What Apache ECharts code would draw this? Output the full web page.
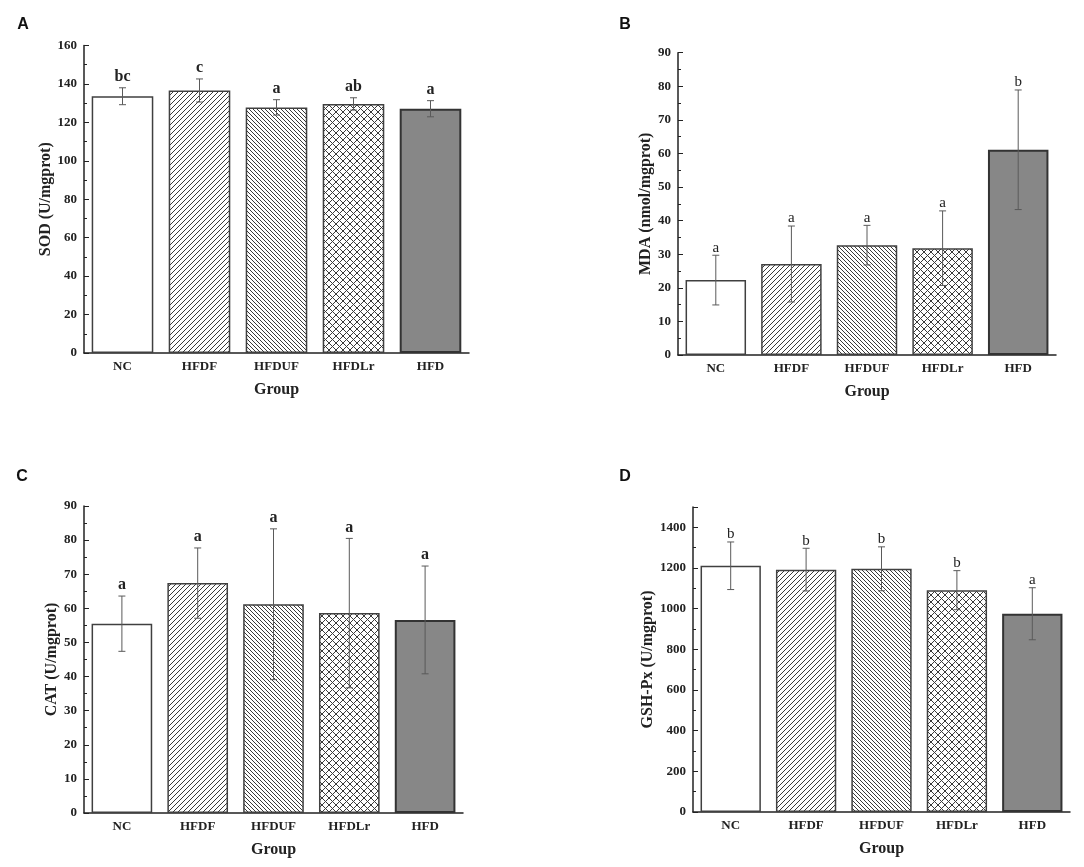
<!DOCTYPE html>
<html>
<head>
    <meta charset="UTF-8">
    <title>Oxidative stress indices</title>
    <script src="https://cdn.jsdelivr.net/npm/echarts@6/dist/echarts.min.js"></script>
    <style>
        html, body { margin: 0; padding: 0; background: #fff; }
        #chart { width: 1084px; height: 867px; }
    </style>
</head>
<body>
<div id="chart"></div>
<script>
    // groups on the x axis
    var groups = ['NC', 'HFDF', 'HFDUF', 'HFDLr', 'HFD'];

    // A: SOD
    var sodMean = [133.6, 136.6, 127.8, 129.6, 127.1];
    var sodErr = [4.4, 6.0, 4.0, 3.2, 4.2];
    var sodSig = ['bc', 'c', 'a', 'ab', 'a'];

    // B: MDA
    var mdaMean = [22.3, 27.1, 32.7, 31.8, 61.1];
    var mdaErr = [7.4, 11.3, 5.9, 11.1, 17.8];
    var mdaSig = ['a', 'a', 'a', 'a', 'b'];

    // C: CAT
    var catMean = [55.5, 67.4, 61.2, 58.6, 56.6];
    var catErr = [8.1, 10.3, 22.1, 21.9, 15.8];
    var catSig = ['a', 'a', 'a', 'a', 'a'];

    // D: GSH-Px
    var gshMean = [1211, 1192, 1196, 1091, 975];
    var gshErr = [117, 105, 108, 96, 128];
    var gshSig = ['b', 'b', 'b', 'b', 'a'];

    var SERIF = '"Liberation Serif", "Times New Roman", serif';

    // hatch patterns drawn on small canvases
    function makePattern(type) {
        var s = type === 'fwd' ? 5 : (type === 'back' ? 4 : 7);
        var c = document.createElement('canvas');
        c.width = s; c.height = s;
        var g = c.getContext('2d');
        g.fillStyle = '#fff';
        g.fillRect(0, 0, s, s);
        g.strokeStyle = '#3a3a3a';
        g.lineWidth = 1;
        g.beginPath();
        if (type === 'fwd' || type === 'cross') {
            g.moveTo(0, s); g.lineTo(s, 0);
            g.moveTo(-1, 1); g.lineTo(1, -1);
            g.moveTo(s - 1, s + 1); g.lineTo(s + 1, s - 1);
        }
        if (type === 'back' || type === 'cross') {
            g.moveTo(0, 0); g.lineTo(s, s);
            g.moveTo(s - 1, -1); g.lineTo(s + 1, 1);
            g.moveTo(-1, s - 1); g.lineTo(1, s + 1);
        }
        g.stroke();
        return { image: c, repeat: 'repeat' };
    }

    var fills = [
        '#ffffff',
        makePattern('fwd'),
        makePattern('back'),
        makePattern('cross'),
        '#878787'
    ];

    var panels = [
        { key: 'A', name: 'SOD (U/mgprot)', mean: sodMean, err: sodErr, sig: sodSig,
          max: 160, interval: 20, gap: 29, bold: true,
          grid: { left: 84, top: 45.5, width: 385, height: 307.5 }, letter: [18, 20] },
        { key: 'B', name: 'MDA (nmol/mgprot)', mean: mdaMean, err: mdaErr, sig: mdaSig,
          max: 90, interval: 10, gap: 22, bold: false,
          grid: { left: 678, top: 52.7, width: 378, height: 302.3 }, letter: [620, 20] },
        { key: 'C', name: 'CAT (U/mgprot)', mean: catMean, err: catErr, sig: catSig,
          max: 90, interval: 10, gap: 22, bold: true,
          grid: { left: 84, top: 506, width: 379, height: 307 }, letter: [17, 472] },
        { key: 'D', name: 'GSH-Px (U/mgprot)', mean: gshMean, err: gshErr, sig: gshSig,
          max: 1500, interval: 200, gap: 36, bold: false,
          grid: { left: 693, top: 507, width: 377, height: 305 }, letter: [620, 472] }
    ];

    var grids = [], xAxes = [], yAxes = [], series = [], titles = [];

    panels.forEach(function (p, i) {
        grids.push(p.grid);

        xAxes.push({
            type: 'category', gridIndex: i, data: groups, boundaryGap: true,
            name: 'Group', nameLocation: 'middle', nameGap: 29,
            nameTextStyle: { fontFamily: SERIF, fontWeight: 'bold', fontSize: 16, color: '#222' },
            axisLine: { lineStyle: { color: '#222', width: 1.5 } },
            axisTick: { inside: true, alignWithLabel: true, length: 5, lineStyle: { color: '#222' } },
            axisLabel: { margin: 7, fontFamily: SERIF, fontWeight: 'bold', fontSize: 13, color: '#222' }
        });
        // second axis only for the small ticks between groups
        xAxes.push({
            type: 'category', gridIndex: i, data: groups, boundaryGap: true,
            axisLine: { show: false },
            axisTick: { inside: true, length: 3, lineStyle: { color: '#222' } },
            axisLabel: { show: false }
        });

        yAxes.push({
            type: 'value', gridIndex: i, min: 0, max: p.max, interval: p.interval,
            name: p.name, nameLocation: 'middle', nameGap: p.gap, nameRotate: 90,
            nameTextStyle: { fontFamily: SERIF, fontWeight: 'bold', fontSize: 16, color: '#222' },
            axisLine: { show: true, lineStyle: { color: '#222', width: 1.5 } },
            axisTick: { show: true, inside: true, length: 5, lineStyle: { color: '#222' } },
            minorTick: { show: true, splitNumber: 2, length: 3, lineStyle: { color: '#222' } },
            splitLine: { show: false },
            axisLabel: {
                margin: 7, fontFamily: SERIF, fontWeight: 'bold', fontSize: 13, color: '#222',
                formatter: function (v) { return v > p.max - p.interval / 2 && v % p.interval !== 0 ? '' : String(v); }
            }
        });

        series.push({
            type: 'bar', xAxisIndex: i * 2, yAxisIndex: i, barWidth: '80%',
            data: p.mean.map(function (v, k) {
                return {
                    value: v,
                    itemStyle: {
                        color: fills[k],
                        borderColor: k === 4 ? '#333' : '#404040',
                        borderWidth: k === 4 ? 2 : 1.5
                    }
                };
            }),
            silent: true
        });

        series.push({
            type: 'custom', xAxisIndex: i * 2, yAxisIndex: i, clip: false, z: 5,
            data: p.mean.map(function (v, k) { return [k, v - p.err[k], v + p.err[k], p.sig[k]]; }),
            renderItem: function (params, api) {
                var lo = api.coord([api.value(0), api.value(1)]);
                var hi = api.coord([api.value(0), api.value(2)]);
                var x = lo[0], w = 3.5;
                var st = { stroke: '#5a5a5a', lineWidth: 1 };
                return {
                    type: 'group',
                    children: [
                        { type: 'line', shape: { x1: x, y1: lo[1], x2: x, y2: hi[1] }, style: st },
                        { type: 'line', shape: { x1: x - w, y1: lo[1], x2: x + w, y2: lo[1] }, style: st },
                        { type: 'line', shape: { x1: x - w, y1: hi[1], x2: x + w, y2: hi[1] }, style: st },
                        {
                            type: 'text', x: x, y: hi[1] - (p.bold ? 3 : 0),
                            style: {
                                text: p.sig[params.dataIndex],
                                fontFamily: SERIF, fontWeight: p.bold ? 'bold' : 'normal',
                                fontSize: p.bold ? 16 : 15, fill: '#222',
                                textAlign: 'center', textVerticalAlign: 'bottom'
                            }
                        }
                    ]
                };
            }
        });

        titles.push({
            text: p.key, left: p.letter[0], top: p.letter[1],
            textAlign: 'center', textVerticalAlign: 'middle',
            textStyle: { fontFamily: '"Liberation Sans", Arial, sans-serif', fontWeight: 'bold', fontSize: 16, color: '#111' }
        });
    });

    var myChart = echarts.init(document.getElementById('chart'));
    myChart.setOption({
        animation: false,
        backgroundColor: '#fff',
        title: titles,
        grid: grids,
        xAxis: xAxes,
        yAxis: yAxes,
        series: series
    });
</script>
</body>
</html>
